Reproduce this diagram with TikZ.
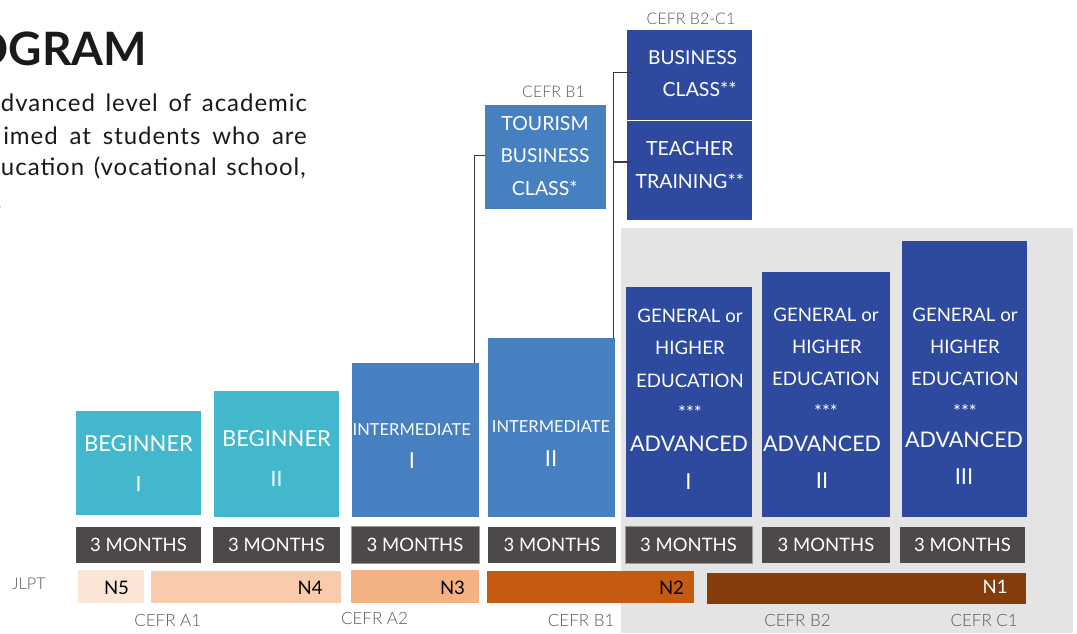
\documentclass[tikz,border=0pt]{standalone}
\usepackage{fontspec}
\setmainfont{Lato}
\newfontfamily\lightfont{Lato Light}
\newfontfamily\parafont{Lato}[LetterSpace=4]
\usetikzlibrary{calc}
\newcommand\myfs[1]{\fontsize{#1}{#1}\selectfont}
\definecolor{cTeal}{HTML}{43B8CD}
\definecolor{cInter}{HTML}{4680C1}
\definecolor{cDark}{HTML}{2E4A9E}
\definecolor{cMonths}{HTML}{4D4948}
\definecolor{cBg}{HTML}{E4E4E4}
\definecolor{cNfive}{HTML}{FBE5D6}
\definecolor{cNfour}{HTML}{F8CBAD}
\definecolor{cNthree}{HTML}{F4B183}
\definecolor{cNtwo}{HTML}{C55A11}
\definecolor{cNone}{HTML}{843C0C}
\definecolor{cLab}{HTML}{595959}
\definecolor{cLine}{HTML}{3A3A3A}
\definecolor{cTitle}{HTML}{1A1A1A}
\definecolor{cBorder}{HTML}{9A9A9A}
\begin{document}
\begin{tikzpicture}[x=1pt,y=-1pt,
  box/.style={anchor=north west, inner sep=0, outer sep=0, draw=none},
  wt/.style={inner sep=0, outer sep=0, text=white},
  mtext/.style={inner sep=0, outer sep=0, text=white, font={\myfs{18.5}}},
  ntext/.style={inner sep=0, outer sep=0, text=black, font={\myfs{18.6}}},
  lab/.style={inner sep=0, outer sep=0, text=cLab, font={\lightfont\myfs{17}}},
  para/.style={inner sep=0, outer sep=0, text=cTitle, font={\parafont\myfs{24}}},
  conn/.style={draw=cLine, line width=1.3pt}
]
\useasboundingbox (0,0) rectangle (1077,633);
\clip (0,0) rectangle (1077,633);

% title and paragraph
\node[inner sep=0, anchor=base east, font={\bfseries\myfs{46}}, text=cTitle] (title) at (147.5,65) {OGRAM};
\node[para, anchor=base west] (p1) at (1,111) {\makebox[306pt][s]{dvanced level of academic}};
\node[para, anchor=base west] (p2) at (3.3,144.3) {\makebox[303.4pt][s]{imed at students who are}};
\node[para, anchor=base west] (p3) at (1,175.7) {\makebox[304.7pt][s]{ucation (vocational school,}};
\node[para, anchor=base east] (p4) at (1.8,208) {.};

% grey panel
\node[box, fill=cBg, minimum width=452, minimum height=405] (panel) at (621,228) {};

% level boxes
\node[box, fill=cTeal, minimum width=125, minimum height=104] (beg1) at (76,411) {};
\node[box, fill=cTeal, minimum width=125, minimum height=126] (beg2) at (214,391) {};
\node[box, fill=cInter, minimum width=127, minimum height=154] (int1) at (352,363) {};
\node[box, fill=cInter, minimum width=127, minimum height=179] (int2) at (488,338) {};
\node[box, fill=cDark, minimum width=126, minimum height=230] (adv1) at (626,287) {};
\node[box, fill=cDark, minimum width=128, minimum height=245] (adv2) at (762,272) {};
\node[box, fill=cDark, minimum width=125, minimum height=276] (adv3) at (902,241) {};
\node[box, fill=cInter, minimum width=121, minimum height=104] (tour) at (485,105) {};
\node[box, fill=cDark, minimum width=125, minimum height=90] (bus) at (627,30) {};
\node[box, fill=cDark, minimum width=125, minimum height=99] (teach) at (627,121) {};

% texts in level boxes
\node[wt, font={\myfs{22}}] (tb1a) at (138.5,444) {BEGINNER};
\node[wt, font={\myfs{21}}] (tb1b) at (138.5,484.3) {I};
\node[wt, font={\myfs{22}}] (tb2a) at (276.5,439) {BEGINNER};
\node[wt, font={\myfs{21}}] (tb2b) at (276.5,478.7) {II};
\node[wt, font={\myfs{16.5}}] (ti1a) at (411.7,429.5) {INTERMEDIATE};
\node[wt, font={\myfs{22}}] (ti1b) at (412,460.7) {I};
\node[wt, font={\myfs{16.5}}] (ti2a) at (551,427) {INTERMEDIATE};
\node[wt, font={\myfs{22}}] (ti2b) at (551,458.3) {II};

\node[wt, font={\myfs{18.6}}] (ta1a) at (690,315.7) {GENERAL or};
\node[wt, font={\myfs{18.6}}] (ta1b) at (690,348.3) {HIGHER};
\node[wt, font={\myfs{18.6}}] (ta1c) at (690,381) {EDUCATION};
\node[wt, font={\myfs{18.6}}, anchor=base] (ta1d) at (690,419.5) {***};
\node[wt, font={\myfs{21.5}}] (ta1e) at (689,444) {ADVANCED};
\node[wt, font={\myfs{22}}] (ta1f) at (688.5,481.7) {I};

\node[wt, font={\myfs{18.6}}] (ta2a) at (826,314.7) {GENERAL or};
\node[wt, font={\myfs{18.6}}] (ta2b) at (827,347.3) {HIGHER};
\node[wt, font={\myfs{18.6}}] (ta2c) at (826,379) {EDUCATION};
\node[wt, font={\myfs{18.6}}, anchor=base] (ta2d) at (826,418.5) {***};
\node[wt, font={\myfs{21.5}}] (ta2e) at (822,444) {ADVANCED};
\node[wt, font={\myfs{22}}] (ta2f) at (822,481) {II};

\node[wt, font={\myfs{18.6}}] (ta3a) at (965,314.7) {GENERAL or};
\node[wt, font={\myfs{18.6}}] (ta3b) at (965,346.7) {HIGHER};
\node[wt, font={\myfs{18.6}}] (ta3c) at (965,379) {EDUCATION};
\node[wt, font={\myfs{18.6}}, anchor=base] (ta3d) at (965,418.5) {***};
\node[wt, font={\myfs{21.5}}] (ta3e) at (964,440) {ADVANCED};
\node[wt, font={\myfs{22}}] (ta3f) at (964,476.7) {III};

\node[wt, font={\myfs{19.5}}] (tt1) at (545,124) {TOURISM};
\node[wt, font={\myfs{19.2}}] (tt2) at (545,155.7) {BUSINESS};
\node[wt, font={\myfs{19.5}}] (tt3) at (544.8,188.3) {CLASS*};
\node[wt, font={\myfs{19.2}}] (tbu1) at (692.6,57.7) {BUSINESS};
\node[wt, font={\myfs{19.5}}] (tbu2) at (699.7,89.3) {CLASS**};
\node[wt, font={\myfs{19.5}}] (tte1) at (689.7,148.3) {TEACHER};
\node[wt, font={\myfs{19.5}}] (tte2) at (689.8,181) {TRAINING**};

% duration boxes
\node[box, fill=cMonths, minimum width=125, minimum height=36.5] (m1) at (76,526.5) {};
\node[box, fill=cMonths, minimum width=127, minimum height=36.5] (m2) at (213,526.5) {};
\node[box, fill=cMonths, draw=cBorder, line width=0.8pt, minimum width=128, minimum height=36.5] (m3) at (351,526.5) {};
\node[box, fill=cMonths, minimum width=128, minimum height=36.5] (m4) at (488,526.5) {};
\node[box, fill=cMonths, draw=cBorder, line width=0.8pt, minimum width=127, minimum height=36.5] (m5) at (625,526.5) {};
\node[box, fill=cMonths, minimum width=128, minimum height=36.5] (m6) at (762,526.5) {};
\node[box, fill=cMonths, minimum width=125, minimum height=36.5] (m7) at (900,526.5) {};
\foreach \m in {m1,m2,m3,m4,m5,m6,m7}{
  \node[mtext] (\m t) at ($(\m.center)+(0,0.5)$) {3 MONTHS};
}

% JLPT bars
\node[box, fill=cNfive, minimum width=66, minimum height=32.7] (n5) at (78,570) {};
\node[box, fill=cNfour, minimum width=190, minimum height=31.7] (n4) at (151,571) {};
\node[box, fill=cNthree, minimum width=128, minimum height=32.7] (n3) at (351,570) {};
\node[box, fill=cNtwo, minimum width=207, minimum height=31.7] (n2) at (487,571) {};
\node[box, fill=cNone, minimum width=319, minimum height=31.3] (n1) at (707,572.7) {};
\node[ntext] (n5t) at (116.5,588.3) {N5};
\node[ntext, anchor=east] (n4t) at (322.7,588.3) {N4};
\node[ntext, anchor=east] (n3t) at (465,588.3) {N3};
\node[ntext, anchor=east] (n2t) at (684,587.5) {N2};
\node[ntext, anchor=east, text=white] (n1t) at (1007.7,587.3) {N1};

% labels
\node[lab, font={\lightfont\myfs{16.3}}] (jlpt) at (28.7,584) {JLPT};
\node[lab, font={\lightfont\myfs{16}}] (lbc) at (691,18.5) {CEFR B2-C1};
\node[lab, font={\lightfont\myfs{16}}] (lbtop) at (553.5,91.5) {CEFR B1};
\node[lab] (la1) at (167.8,620.3) {CEFR A1};
\node[lab] (la2) at (374.5,618) {CEFR A2};
\node[lab] (lb1) at (581.2,620.5) {CEFR B1};
\node[lab] (lb2) at (797.5,620.5) {CEFR B2};
\node[lab] (lc1) at (984.2,620.5) {CEFR C1};

% connectors
\coordinate (v1) at ($(int1.north east)+(-4.3,0)$);
\coordinate (e1) at ($(tour.west)+(0,-1.3)$);
\draw[conn] (v1) |- (e1);
\coordinate (v2) at ($(int2.north east)+(-1.3,0)$);
\coordinate (e2) at ($(bus.west)+(5.7,-2.3)$);
\draw[conn] (v2) |- (e2);
\coordinate (e3) at ($(teach.west)+(2.3,-8.5)$);
\draw[conn] (e3) -- (e3 -| v2);
\end{tikzpicture}
\end{document}
